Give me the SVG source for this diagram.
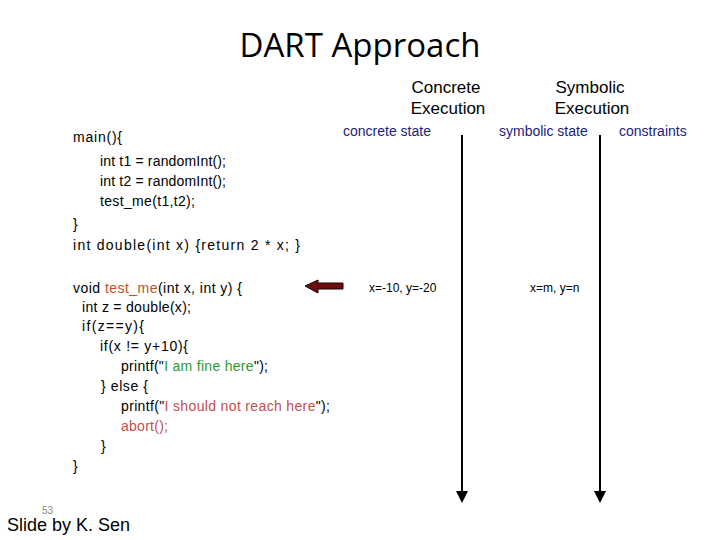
<svg xmlns="http://www.w3.org/2000/svg" width="720" height="540" viewBox="0 0 720 540">
<style>
text{font-family:"Liberation Sans",Arial,sans-serif;}
.code{font-size:14px;fill:#000;}
.hdr{font-size:17px;fill:#000;text-anchor:middle;}
.st{font-size:14px;fill:#1c1c7a;}
.val{font-size:12px;fill:#000;}
.fn{fill:#c0502c;}
.ok{fill:#2e9a2e;}
.bad{fill:#c0504d;}
.tl{stroke:#000;stroke-width:2;fill:none;}
</style>
<defs>
<marker id="ah" markerWidth="6" markerHeight="6" refX="5" refY="3" orient="auto" markerUnits="strokeWidth">
<path d="M0,0 L6,3 L0,6 Z" fill="#000"/>
</marker>
</defs>
<rect width="720" height="540" fill="#fff"/>
<g id="title">
<text x="360" y="57" text-anchor="middle" style="font-family:'Open Sans','Liberation Sans',sans-serif;font-size:33px;">DART Approach</text>
</g>
<g id="hdr-concrete">
<text class="hdr" x="446" y="93">Concrete</text>
<text class="hdr" x="448" y="114">Execution</text>
</g>
<g id="hdr-symbolic">
<text class="hdr" x="590" y="93">Symbolic</text>
<text class="hdr" x="592" y="114">Execution</text>
</g>
<g id="state-labels">
<text class="st" x="343" y="136">concrete state</text>
<text class="st" x="499" y="136">symbolic state</text>
<text class="st" x="619" y="136">constraints</text>
</g>
<g id="main-code" class="code">
<text x="73" y="142" textLength="49">main(){</text>
<text x="100" y="166" textLength="126">int t1 = randomInt();</text>
<text x="100" y="186" textLength="126">int t2 = randomInt();</text>
<text x="100" y="206" textLength="95">test_me(t1,t2);</text>
<text x="73" y="229">}</text>
<text x="73" y="250" textLength="227">int double(int x) {return 2 * x; }</text>
</g>
<g id="test-code" class="code">
<text x="73" y="293" textLength="169">void <tspan class="fn">test_me</tspan>(int x, int y) {</text>
<text x="82" y="312" textLength="109">int z = double(x);</text>
<text x="82" y="331" textLength="62">if(z==y){</text>
<text x="100" y="351" textLength="88">if(x != y+10){</text>
<text x="121" y="371" textLength="147">printf(&quot;<tspan class="ok">I am fine here</tspan>&quot;);</text>
<text x="101" y="391" textLength="47">} else {</text>
<text x="121" y="411" textLength="209">printf(&quot;<tspan class="bad">I should not reach here</tspan>&quot;);</text>
<text x="121" y="431" class="bad" textLength="47">abort();</text>
<text x="101" y="451">}</text>
<text x="73" y="471">}</text>
</g>
<g id="concrete-value">
<text class="val" x="369" y="292">x=-10, y=-20</text>
</g>
<g id="symbolic-value">
<text class="val" x="530" y="292">x=m, y=n</text>
</g>
<g id="connectors">
<line class="tl" x1="462" y1="135" x2="462" y2="501" marker-end="url(#ah)"/>
<line class="tl" x1="600" y1="135" x2="600" y2="501" marker-end="url(#ah)"/>
<path d="M305,286 L318,280 L318,283 L343,283 L343,289 L318,289 L318,293 Z" fill="#6b0d0d" stroke="#200" stroke-width="1"/>
</g>
<g id="footer">
<text x="7" y="531" style="font-size:18px;">Slide by K. Sen</text>
<text x="42" y="514" style="font-size:10px;fill:#888;">53</text>
</g>
</svg>
